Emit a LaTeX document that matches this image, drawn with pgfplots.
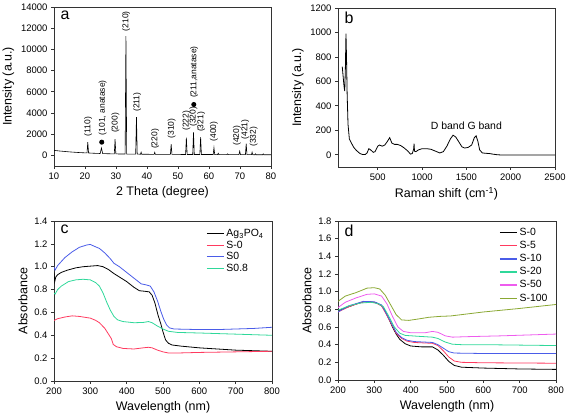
\documentclass[border=0pt]{standalone}
\usepackage{fontspec}
\setmainfont{Liberation Sans}
\usepackage{pgfplots}
\pgfplotsset{compat=1.18}
\definecolor{cred}{HTML}{FF3A5F}
\definecolor{cblue}{HTML}{4A5CE8}
\definecolor{cgreen}{HTML}{2FD89A}
\definecolor{cmag}{HTML}{EE5CEE}
\definecolor{colive}{HTML}{8AA833}
\pgfplotsset{panel/.style={
  scale only axis, anchor=south west,
  axis line style={black!80, line width=0.7pt},
  tick style={black!80, line width=0.7pt},
  tick align=outside, xtick pos=left, ytick pos=left,
  major tick length=3bp,
  ticklabel style={font=\fontsize{9.5}{11}\selectfont},
  label style={font=\fontsize{12.5}{14}\selectfont},
  /pgf/number format/assume math mode=true,
  scaled ticks=false,
  /pgf/number format/1000 sep={},
  every axis plot/.append style={line width=0.8pt},
  legend style={draw=none, fill=none, font=\fontsize{10.5}{12}\selectfont, row sep=-1.2pt},
  legend cell align=left,
  legend image code/.code={\draw[#1, line width=1.3pt] (0bp,0bp) -- (17bp,0bp);},
}}
\begin{document}
\begin{tikzpicture}
\useasboundingbox (0,0) rectangle (569bp,414bp);
% ---------- panel a ----------
\begin{axis}[panel, at={(54bp,248bp)}, width=217bp, height=159bp,
  xmin=10, xmax=80, ymin=-1000, ymax=14000,
  xtick={10,20,...,80}, ytick={0,2000,...,14000},
  xlabel={2 Theta (degree)}, ylabel={Intensity (a.u.)}]
\addplot[black, line width=0.6pt] coordinates {
(10,470) (12,410) (15,330) (18,270) (20,240) (20.65,232) (20.9,1260) (21.15,230) (23,200)
(24.9,180) (25.3,700) (25.7,175) (27,160) (29.45,140) (29.7,1540) (29.95,140) (31,135)
(32.95,130) (33.2,11250) (33.45,128) (35,120) (36.35,115) (36.6,3620) (36.85,115) (37.9,112) (38.1,300) (38.3,110)
(40,105) (42.3,100) (42.5,280) (42.7,100) (45,95) (47.55,92) (47.8,1050) (48.05,92)
(50,90) (52.45,88) (52.7,1680) (52.95,88) (54.75,86) (55.0,2180) (55.25,86) (57.05,85) (57.3,1730) (57.55,85)
(60,82) (61.35,80) (61.6,730) (61.85,80) (62.8,80) (63.0,200) (63.2,80) (65.8,75) (66.0,150) (66.2,75)
(69.65,70) (69.9,400) (70.15,70) (71.75,68) (72.0,1100) (72.25,68) (73.7,66) (73.9,300) (74.1,66)
(74.8,65) (75.0,150) (75.2,65) (77.3,62) (77.5,150) (77.7,62) (80,60)};
\addplot[only marks, mark=*, mark size=2.1pt, black] coordinates {(25.4,1250) (55.1,4800)};
\begin{scope}[every node/.style={rotate=90, anchor=west, inner sep=0pt, font=\fontsize{8.5}{10}\selectfont}]
\node at (axis cs:21.0,1800) {(110)};
\node at (axis cs:25.7,1900) {(101, anatase)};
\node at (axis cs:29.8,2100) {(200)};
\node at (axis cs:33.3,11700) {(210)};
\node at (axis cs:36.8,4100) {(211)};
\node at (axis cs:42.6,600) {(220)};
\node at (axis cs:48.0,1600) {(310)};
\node at (axis cs:52.7,2300) {(222)};
\node at (axis cs:55.0,2700) {(320)};
\node at (axis cs:57.5,2200) {(321)};
\node at (axis cs:55.2,5400) {(211,anatase)};
\node at (axis cs:61.6,1300) {(400)};
\node at (axis cs:69.0,900) {(420)};
\node at (axis cs:71.7,1500) {(421)};
\node at (axis cs:74.4,800) {(332)};
\end{scope}
\node[anchor=north west, inner sep=0pt, font=\fontsize{16}{16}\selectfont] at (rel axis cs:0.03,0.975) {a};
\end{axis}
% ---------- panel b ----------
\begin{axis}[panel, at={(338bp,247bp)}, width=217bp, height=159bp,
  xmin=52, xmax=2500, ymin=-100, ymax=1200,
  xtick={500,1000,...,2500}, ytick={0,200,...,1200},
  xlabel={Raman shift (cm\textsuperscript{-1})}, ylabel={Intensity (a.u.)}]
\addplot[black] coordinates {
(100,720) (110,640) (120,560) (128,520) (135,700) (142,990) (148,800) (155,500) (165,250)
(180,130) (200,100) (230,60) (260,35) (300,10) (330,2) (360,3) (380,15) (400,50) (420,40)
(450,20) (470,25) (500,70) (520,80) (550,70) (580,80) (610,110) (635,140) (660,95) (690,85)
(720,85) (760,75) (800,55) (840,30) (870,5) (890,10) (905,45) (910,90) (915,30) (930,25)
(960,40) (1000,50) (1050,50) (1100,45) (1150,30) (1200,15) (1240,25) (1280,70) (1320,130)
(1350,160) (1380,145) (1420,100) (1450,65) (1480,55) (1520,60) (1560,80) (1590,140) (1610,155)
(1630,110) (1650,40) (1680,15) (1720,12) (1760,10) (1800,5) (1850,0) (1900,-2) (2000,-2)
(2200,-2) (2500,-2)};
\node[font=\fontsize{10.5}{12}\selectfont] at (axis cs:1500,235) {D band G band};
\node[anchor=north west, inner sep=0pt, font=\fontsize{16}{16}\selectfont] at (rel axis cs:0.03,0.975) {b};
\end{axis}
% ---------- panel c ----------
\begin{axis}[panel, at={(54bp,33bp)}, width=218bp, height=160bp,
  xmin=200, xmax=800, ymin=0, ymax=1.4,
  xtick={200,300,...,800}, ytick={0,0.2,...,1.4},
  yticklabel style={/pgf/number format/.cd, fixed, fixed zerofill, precision=1},
  xlabel={Wavelength (nm)}, ylabel={Absorbance},
  legend style={at={(0.985,0.975)}, anchor=north east}]
\addplot[black] coordinates {
(200,0.95) (202,0.87) (205,0.91) (210,0.93) (220,0.95) (237,0.97) (260,0.99) (280,1.0)
(300,1.005) (320,1.01) (335,1.0) (350,0.975) (365,0.94) (380,0.91) (400,0.87) (420,0.82)
(435,0.79) (450,0.785) (462,0.78) (470,0.75) (478,0.68) (486,0.58) (494,0.5) (500,0.43)
(507,0.36) (515,0.33) (525,0.315) (550,0.305) (600,0.29) (650,0.28) (700,0.27) (750,0.265) (800,0.26)};
\addlegendentry{Ag\textsubscript{3}PO\textsubscript{4}}
\addplot[cred] coordinates {
(200,0.53) (210,0.545) (230,0.56) (250,0.57) (270,0.565) (300,0.55) (315,0.53) (325,0.51)
(340,0.46) (350,0.41) (358,0.37) (363,0.32) (372,0.3) (390,0.285) (420,0.28) (445,0.29)
(460,0.295) (470,0.29) (485,0.27) (500,0.255) (515,0.245) (540,0.245) (600,0.25) (700,0.255) (800,0.26)};
\addlegendentry{S-0}
\addplot[cblue] coordinates {
(200,1.0) (203,0.97) (210,1.01) (230,1.08) (250,1.13) (270,1.17) (290,1.19) (300,1.195)
(310,1.18) (325,1.16) (340,1.12) (355,1.07) (365,1.03) (380,1.0) (400,0.95) (420,0.9)
(440,0.85) (455,0.84) (465,0.83) (475,0.78) (485,0.7) (494,0.61) (502,0.54) (510,0.49)
(518,0.465) (530,0.455) (600,0.45) (650,0.45) (700,0.455) (750,0.46) (800,0.47)};
\addlegendentry{S0}
\addplot[cgreen] coordinates {
(200,0.77) (203,0.76) (210,0.8) (220,0.83) (240,0.87) (260,0.885) (280,0.89) (300,0.885)
(315,0.86) (325,0.83) (335,0.77) (345,0.69) (355,0.62) (365,0.565) (375,0.535) (390,0.52)
(420,0.51) (445,0.512) (460,0.52) (470,0.51) (485,0.48) (500,0.455) (515,0.435) (540,0.425)
(600,0.42) (700,0.41) (800,0.40)};
\addlegendentry{S0.8}
\node[anchor=north west, inner sep=0pt, font=\fontsize{16}{16}\selectfont] at (rel axis cs:0.03,0.975) {c};
\end{axis}
% ---------- panel d ----------
\begin{axis}[panel, at={(338bp,34bp)}, width=218bp, height=159bp,
  xmin=200, xmax=800, ymin=0, ymax=1.8,
  xtick={200,300,...,800}, ytick={0,0.2,...,1.8},
  yticklabel style={/pgf/number format/.cd, fixed, fixed zerofill, precision=1},
  xlabel={Wavelength (nm)}, ylabel={Absorbance},
  legend style={at={(0.985,0.98)}, anchor=north east, row sep=0.3pt}]
\addplot[black] coordinates {
(200,0.78) (210,0.8) (230,0.83) (250,0.86) (270,0.885) (290,0.885) (305,0.875) (320,0.84)
(330,0.78) (340,0.69) (350,0.6) (360,0.52) (370,0.46) (385,0.41) (400,0.385) (430,0.375)
(460,0.375) (475,0.34) (490,0.28) (505,0.21) (520,0.165) (540,0.145) (600,0.135) (700,0.125) (800,0.12)};
\addlegendentry{S-0}
\addplot[cred] coordinates {
(200,0.77) (230,0.83) (270,0.885) (300,0.88) (320,0.84) (340,0.69) (360,0.53) (375,0.47)
(390,0.44) (410,0.425) (460,0.415) (475,0.39) (490,0.33) (505,0.26) (520,0.215) (540,0.2)
(600,0.195) (800,0.19)};
\addlegendentry{S-5}
\addplot[cblue] coordinates {
(200,0.77) (230,0.84) (270,0.89) (300,0.885) (320,0.85) (340,0.7) (360,0.54) (375,0.48)
(390,0.45) (410,0.435) (460,0.425) (475,0.4) (490,0.36) (505,0.32) (520,0.305) (600,0.3) (800,0.3)};
\addlegendentry{S-10}
\addplot[cgreen] coordinates {
(200,0.79) (230,0.84) (260,0.87) (290,0.88) (310,0.865) (325,0.83) (340,0.72) (355,0.6)
(370,0.53) (385,0.505) (420,0.495) (460,0.485) (475,0.47) (495,0.43) (515,0.405) (540,0.4)
(600,0.4) (800,0.39)};
\addlegendentry{S-20}
\addplot[cmag] coordinates {
(200,0.82) (220,0.88) (250,0.93) (280,0.97) (300,0.975) (320,0.95) (335,0.86) (350,0.72)
(365,0.6) (380,0.55) (400,0.535) (440,0.535) (460,0.55) (475,0.54) (495,0.5) (515,0.485)
(550,0.49) (650,0.5) (800,0.52)};
\addlegendentry{S-50}
\addplot[colive] coordinates {
(200,0.89) (220,0.95) (250,0.99) (280,1.04) (300,1.045) (315,1.03) (330,0.96) (345,0.85)
(360,0.74) (375,0.68) (395,0.675) (420,0.69) (450,0.71) (480,0.72) (510,0.725) (530,0.735)
(600,0.77) (700,0.81) (800,0.855)};
\addlegendentry{S-100}
\node[anchor=north west, inner sep=0pt, font=\fontsize{16}{16}\selectfont] at (rel axis cs:0.03,0.975) {d};
\end{axis}
\end{tikzpicture}
\end{document}
